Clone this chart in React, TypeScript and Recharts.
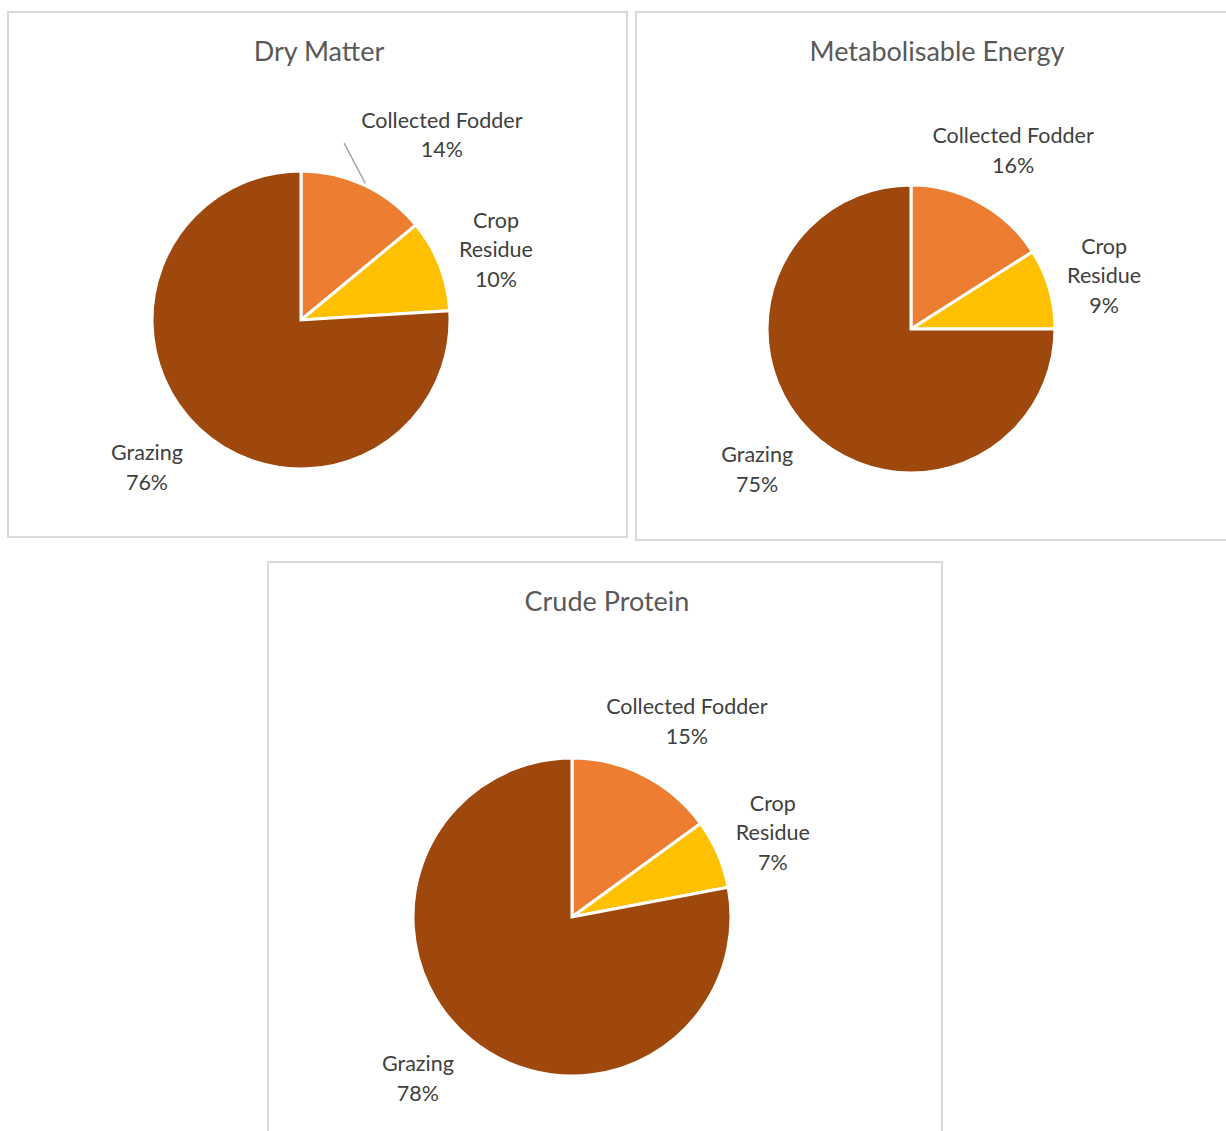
import React from "react";
import { PieChart, Pie, Cell } from "recharts";

// feed source shares (%) per nutrient
const categories = ["Collected Fodder", "Crop Residue", "Grazing"];
const dryMatter = [14, 10, 76];
const metabolisableEnergy = [16, 9, 75];
const crudeProtein = [15, 7, 78];

const colors = ["#ED7D31", "#FFC000", "#9E480E"];
const wrapped = ["Crop Residue"];

const RAD = Math.PI / 180;
const FONT = "Lato, 'Open Sans', sans-serif";

// label placement: [clockwise shift from slice mid-angle (deg), distance from centre (px)]
type Place = { shift: number; dist: number; leaderDist?: number; leaderShift?: number };

const panels = [
  {
    title: "Dry Matter",
    values: dryMatter,
    left: 7, top: 11, width: 621, height: 527,
    cx: 294, cy: 309, r: 149, titleX: 310,
    place: [
      { shift: 12, dist: 233, leaderDist: 182, leaderShift: -11.5 },
      { shift: 1.6, dist: 207.5 },
      { shift: 3.1, dist: 213 },
    ] as Place[],
  },
  {
    title: "Metabolisable Energy",
    values: metabolisableEnergy,
    left: 635, top: 11, width: 620, height: 530,
    cx: 276, cy: 318, r: 144, titleX: 300,
    place: [
      { shift: 0.9, dist: 206 },
      { shift: 0.6, dist: 200.5 },
      { shift: 2.7, dist: 208 },
    ] as Place[],
  },
  {
    title: "Crude Protein",
    values: crudeProtein,
    left: 267, top: 561, width: 676, height: 610,
    cx: 305, cy: 356, r: 159, titleX: 338,
    place: [
      { shift: 3.4, dist: 227 },
      { shift: 0.5, dist: 218 },
      { shift: 4.1, dist: 223 },
    ] as Place[],
  },
];

const makeLabel = (place: Place[]) => (props: any) => {
  const { cx, cy, midAngle, outerRadius, index, name, percent } = props;
  const n = place[index];
  const a = (midAngle - n.shift) * RAD;
  const x = cx + n.dist * Math.cos(a);
  const y = cy - n.dist * Math.sin(a);
  const lines = wrapped.includes(name) ? name.split(" ") : [name];
  lines.push(`${Math.round(percent * 100)}%`);
  const lh = 29.5;
  const y0 = y - ((lines.length - 1) * lh) / 2;
  let leader = null;
  if (n.leaderDist) {
    const s = midAngle * RAD;
    const e = (midAngle - (n.leaderShift || 0)) * RAD;
    leader = (
      <line
        x1={cx + (outerRadius + 2) * Math.cos(s)}
        y1={cy - (outerRadius + 2) * Math.sin(s)}
        x2={cx + n.leaderDist * Math.cos(e)}
        y2={cy - n.leaderDist * Math.sin(e)}
        stroke="#a6a6a6"
        strokeWidth={1.5}
      />
    );
  }
  return (
    <g>
      {leader}
      <text textAnchor="middle" fill="#404040" fontSize={21.5} fontFamily={FONT}>
        {lines.map((l: string, i: number) => (
          <tspan key={i} x={x} y={y0 + i * lh} dominantBaseline="central">
            {l}
          </tspan>
        ))}
      </text>
    </g>
  );
};

const App = () => {
  return (
    <div
      style={{
        position: "absolute", left: 0, top: 0, width: 1226, height: 1131,
        overflow: "hidden", background: "#fff",
      }}
    >
      {panels.map((p) => {
        const data = categories.map((name, i) => ({ name, value: p.values[i] }));
        return (
          <div
            key={p.title}
            style={{
              position: "absolute", left: p.left, top: p.top, width: p.width, height: p.height,
              border: "2px solid #d9d9d9", boxSizing: "border-box", background: "#fff",
            }}
          >
            <div
              style={{
                position: "absolute", left: p.titleX - 250, width: 500, top: 21,
                textAlign: "center", fontFamily: FONT, fontSize: 27, color: "#595959",
              }}
            >
              {p.title}
            </div>
            <div style={{ position: "absolute", left: -2, top: -2 }}>
              <PieChart
                width={p.width}
                height={p.height}
                margin={{ top: 0, right: 0, bottom: 0, left: 0 }}
              >
                <Pie
                  data={data}
                  dataKey="value"
                  nameKey="name"
                  cx={p.cx}
                  cy={p.cy}
                  outerRadius={p.r}
                  startAngle={90}
                  endAngle={-270}
                  stroke="#fff"
                  strokeWidth={3}
                  label={makeLabel(p.place)}
                  labelLine={false}
                  isAnimationActive={false}
                >
                  {data.map((d, i) => (
                    <Cell key={d.name} fill={colors[i]} />
                  ))}
                </Pie>
              </PieChart>
            </div>
          </div>
        );
      })}
    </div>
  );
};

export default App;
